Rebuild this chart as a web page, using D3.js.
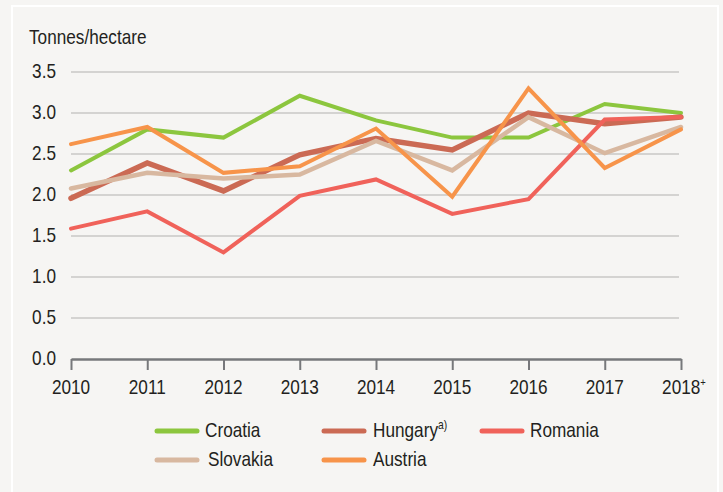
<!DOCTYPE html>
<html>
<head>
<meta charset="utf-8">
<script src="https://cdn.jsdelivr.net/npm/d3@7"></script>
<style>
  body { margin: 0; background: #f6f5f3; }
  text { font-family: "Liberation Sans", Arial, sans-serif; fill: #231f20; font-size: 20px; }
</style>
</head>
<body>
<script>
const years = ["2010", "2011", "2012", "2013", "2014", "2015", "2016", "2017", "2018"];
const yearSup = ["", "", "", "", "", "", "", "", "+"];
const yTicks = [0, 0.5, 1.0, 1.5, 2.0, 2.5, 3.0, 3.5];

const croatia  = [2.30, 2.80, 2.70, 3.21, 2.91, 2.70, 2.70, 3.11, 3.00];
const hungary  = [1.96, 2.39, 2.05, 2.49, 2.69, 2.55, 3.00, 2.87, 2.95];
const romania  = [1.59, 1.80, 1.30, 1.99, 2.19, 1.77, 1.95, 2.92, 2.95];
const slovakia = [2.08, 2.27, 2.20, 2.25, 2.66, 2.30, 2.95, 2.51, 2.83];
const austria  = [2.62, 2.83, 2.27, 2.35, 2.81, 1.98, 3.30, 2.33, 2.80];

// drawing order (last on top)
const series = [
  {name: "Croatia",  values: croatia,  color: "#8cc63e", w: 4},
  {name: "Hungary",  values: hungary,  color: "#cb6a54", w: 5.5},
  {name: "Slovakia", values: slovakia, color: "#d8b8a0", w: 4.5},
  {name: "Romania",  values: romania,  color: "#f0625a", w: 4},
  {name: "Austria",  values: austria,  color: "#f7944a", w: 4}
];

const width = 723, height = 492;
const narrow = 0.86; // fake a condensed face

const svg = d3.select("body").append("svg")
  .attr("width", width)
  .attr("height", height);

// panel frame
svg.append("rect")
  .attr("x", 12).attr("y", 6)
  .attr("width", 706).attr("height", 500)
  .attr("fill", "#f6f5f3")
  .attr("stroke", "#ffffff")
  .attr("stroke-width", 2);

const x = d3.scalePoint()
  .domain(years)
  .range([71, 681]);

const y = d3.scaleLinear()
  .domain([0, 3.5])
  .range([359, 72]);

function place(px, py) {
  return "translate(" + px + "," + py + ") scale(" + narrow + ",1)";
}

// gridlines
svg.append("g")
  .selectAll("line")
  .data(yTicks.filter(d => d > 0))
  .enter().append("line")
  .attr("x1", 71).attr("x2", 679)
  .attr("y1", d => y(d)).attr("y2", d => y(d))
  .attr("stroke", "#c8c7c6")
  .attr("stroke-width", 1.3);

// y labels
svg.append("g")
  .selectAll("text")
  .data(yTicks)
  .enter().append("text")
  .attr("transform", d => place(56, y(d) + 6))
  .attr("text-anchor", "end")
  .text(d => d.toFixed(1));

svg.append("text")
  .attr("transform", place(29, 44))
  .text("Tonnes/hectare");

// x axis
const xAxis = svg.append("g")
  .attr("transform", "translate(0," + y(0) + ")")
  .call(d3.axisBottom(x).tickSize(11).tickSizeOuter(0));
xAxis.select(".domain").attr("stroke", "#77787b").attr("stroke-width", 2.5);
xAxis.selectAll(".tick line").attr("stroke", "#77787b").attr("stroke-width", 2);
xAxis.selectAll(".tick text").remove();

const xl = svg.append("g")
  .selectAll("text")
  .data(years)
  .enter().append("text")
  .attr("transform", d => place(x(d), 394))
  .attr("text-anchor", d => d === "2018" ? "start" : "middle")
  .attr("x", d => d === "2018" ? -22 : 0);
xl.append("tspan").text(d => d);
xl.append("tspan")
  .attr("dy", -8)
  .style("font-size", "11px")
  .text((d, i) => yearSup[i]);

const line = d3.line()
  .x((d, i) => x(years[i]))
  .y(d => y(d));

svg.append("g")
  .selectAll("path")
  .data(series)
  .enter().append("path")
  .attr("d", d => line(d.values))
  .attr("fill", "none")
  .attr("stroke", d => d.color)
  .attr("stroke-width", d => d.w)
  .attr("stroke-linejoin", "miter")
  .attr("stroke-linecap", "round");

// legend
const legendItems = [
  {name: "Croatia",  sup: "",   color: "#8cc63e", lx: 157, tx: 205, ly: 431},
  {name: "Hungary",  sup: "a)", color: "#cb6a54", lx: 324, tx: 373, ly: 431},
  {name: "Romania",  sup: "",   color: "#f0625a", lx: 482, tx: 530, ly: 431},
  {name: "Slovakia", sup: "",   color: "#d8b8a0", lx: 157, tx: 208, ly: 460},
  {name: "Austria",  sup: "",   color: "#f7944a", lx: 324, tx: 373, ly: 460}
];

const lg = svg.append("g")
  .selectAll("g")
  .data(legendItems)
  .enter().append("g");

lg.append("line")
  .attr("x1", d => d.lx).attr("x2", d => d.lx + 40)
  .attr("y1", d => d.ly).attr("y2", d => d.ly)
  .attr("stroke", d => d.color)
  .attr("stroke-width", 5)
  .attr("stroke-linecap", "round");

const lt = lg.append("text")
  .attr("transform", d => place(d.tx, d.ly + 6));
lt.append("tspan").text(d => d.name);
lt.append("tspan")
  .attr("dy", -8)
  .style("font-size", "12px")
  .text(d => d.sup);
</script>
</body>
</html>
